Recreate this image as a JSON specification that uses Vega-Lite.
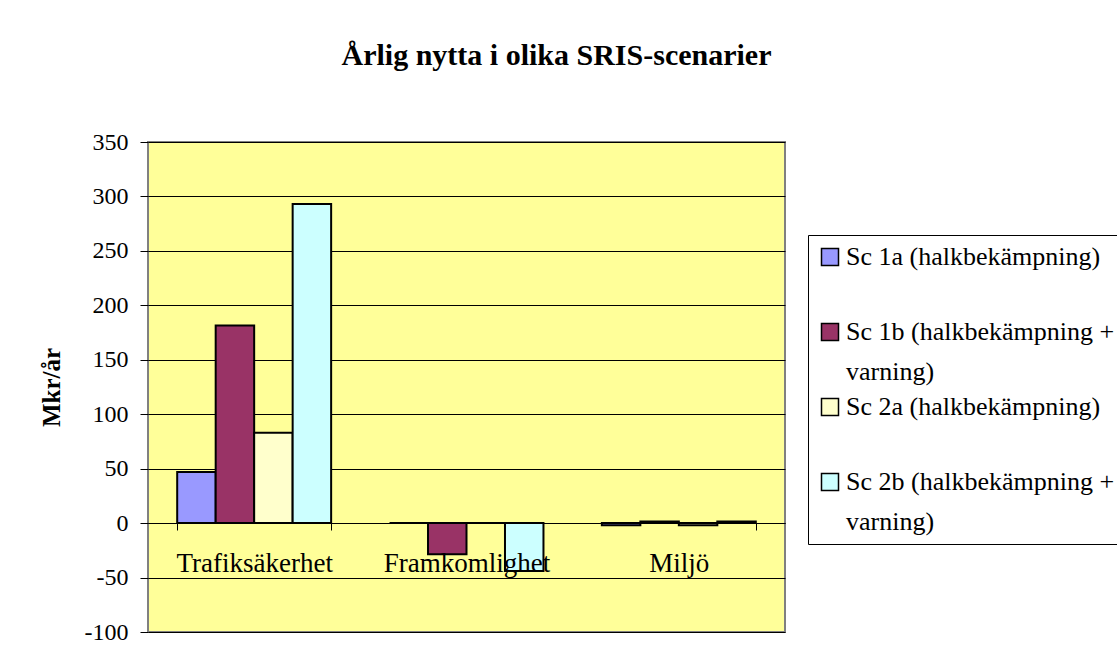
{
  "$schema": "https://vega.github.io/schema/vega-lite/v6.json",
  "autosize": {"type": "none"},
  "width": 637,
  "height": 490,
  "padding": {"left": 148, "top": 142, "right": 332, "bottom": 36},
  "background": "white",
  "title": {
    "text": "Årlig nytta i olika SRIS-scenarier",
    "font": "Liberation Serif",
    "fontSize": 30,
    "fontWeight": "bold",
    "color": "black",
    "anchor": "middle",
    "dx": 90,
    "offset": 59
  },
  "data": {
    "values": [
      {"kategori": "Trafiksäkerhet", "scenario": "Sc 1a (halkbekämpning)", "varde": 47},
      {"kategori": "Trafiksäkerhet", "scenario": "Sc 1b (halkbekämpning + varning)", "varde": 181.5},
      {"kategori": "Trafiksäkerhet", "scenario": "Sc 2a (halkbekämpning)", "varde": 83},
      {"kategori": "Trafiksäkerhet", "scenario": "Sc 2b (halkbekämpning + varning)", "varde": 293},
      {"kategori": "Framkomlighet", "scenario": "Sc 1a (halkbekämpning)", "varde": 0},
      {"kategori": "Framkomlighet", "scenario": "Sc 1b (halkbekämpning + varning)", "varde": -28.5},
      {"kategori": "Framkomlighet", "scenario": "Sc 2a (halkbekämpning)", "varde": 0},
      {"kategori": "Framkomlighet", "scenario": "Sc 2b (halkbekämpning + varning)", "varde": -44},
      {"kategori": "Miljö", "scenario": "Sc 1a (halkbekämpning)", "varde": -2},
      {"kategori": "Miljö", "scenario": "Sc 1b (halkbekämpning + varning)", "varde": 1.5},
      {"kategori": "Miljö", "scenario": "Sc 2a (halkbekämpning)", "varde": -2},
      {"kategori": "Miljö", "scenario": "Sc 2b (halkbekämpning + varning)", "varde": 1.5}
    ]
  },
  "mark": {"type": "bar", "stroke": "black", "strokeWidth": 2, "opacity": 1},
  "encoding": {
    "x": {
      "field": "kategori",
      "type": "nominal",
      "sort": ["Trafiksäkerhet", "Framkomlighet", "Miljö"],
      "scale": {"paddingInner": 0.275, "paddingOuter": 0.1375},
      "axis": {
        "title": null,
        "offset": -109,
        "labelAngle": 0,
        "tickBand": "extent",
        "domainColor": "black",
        "domainWidth": 1,
        "tickColor": "black",
        "tickSize": 7,
        "labelPadding": 20,
        "labelFont": "Liberation Serif",
        "labelFontSize": 27,
        "labelColor": "black",
        "zindex": 1,
        "grid": false
      }
    },
    "xOffset": {
      "field": "scenario",
      "type": "nominal",
      "sort": ["Sc 1a (halkbekämpning)", "Sc 1b (halkbekämpning + varning)", "Sc 2a (halkbekämpning)", "Sc 2b (halkbekämpning + varning)"],
      "scale": {"paddingInner": 0, "paddingOuter": 0}
    },
    "y": {
      "field": "varde",
      "type": "quantitative",
      "scale": {"domain": [-100, 350], "nice": false, "zero": false},
      "axis": {
        "title": "Mkr/år",
        "titleFont": "Liberation Serif",
        "titleFontSize": 25,
        "titleFontWeight": "bold",
        "titleColor": "black",
        "titlePadding": 20,
        "values": [-100, -50, 0, 50, 100, 150, 200, 250, 300, 350],
        "labelExpr": "datum.value + ''",
        "labelFont": "Liberation Serif",
        "labelFontSize": 24,
        "labelColor": "black",
        "labelPadding": 12,
        "tickSize": 8,
        "tickColor": "black",
        "domain": false,
        "grid": true,
        "gridColor": "black",
        "gridWidth": 1,
        "gridOpacity": 1
      }
    },
    "fill": {
      "field": "scenario",
      "type": "nominal",
      "sort": ["Sc 1a (halkbekämpning)", "Sc 1b (halkbekämpning + varning)", "Sc 2a (halkbekämpning)", "Sc 2b (halkbekämpning + varning)"],
      "scale": {"range": ["#9999FF", "#993366", "#FFFFCC", "#CCFFFF"]},
      "legend": {
        "title": null,
        "orient": "none",
        "legendX": 660,
        "legendY": 93,
        "padding": 9,
        "strokeColor": "black",
        "fillColor": "white",
        "symbolType": "square",
        "symbolSize": 289,
        "symbolStrokeColor": "black",
        "symbolStrokeWidth": 1.5,
        "symbolOpacity": 1,
        "labelFont": "Liberation Serif",
        "labelFontSize": 26,
        "labelColor": "black",
        "labelLimit": 500,
        "labelOffset": 3,
        "labelExpr": "indexof(datum.label, '+') > 0 ? split(replace(datum.label, '+ ', '+|'), '|') : split(datum.label + '| ', '|')",
        "rowPadding": 9,
        "encode": {"labels": {"update": {"lineHeight": {"value": 40}, "font": {"value": "Liberation Serif"}}}}
      }
    }
  },
  "config": {
    "view": {"fill": "#FFFF99", "stroke": "#808080", "strokeWidth": 2},
    "font": "Liberation Serif",
    "legend": {"labelFont": "Liberation Serif"}
  }
}
